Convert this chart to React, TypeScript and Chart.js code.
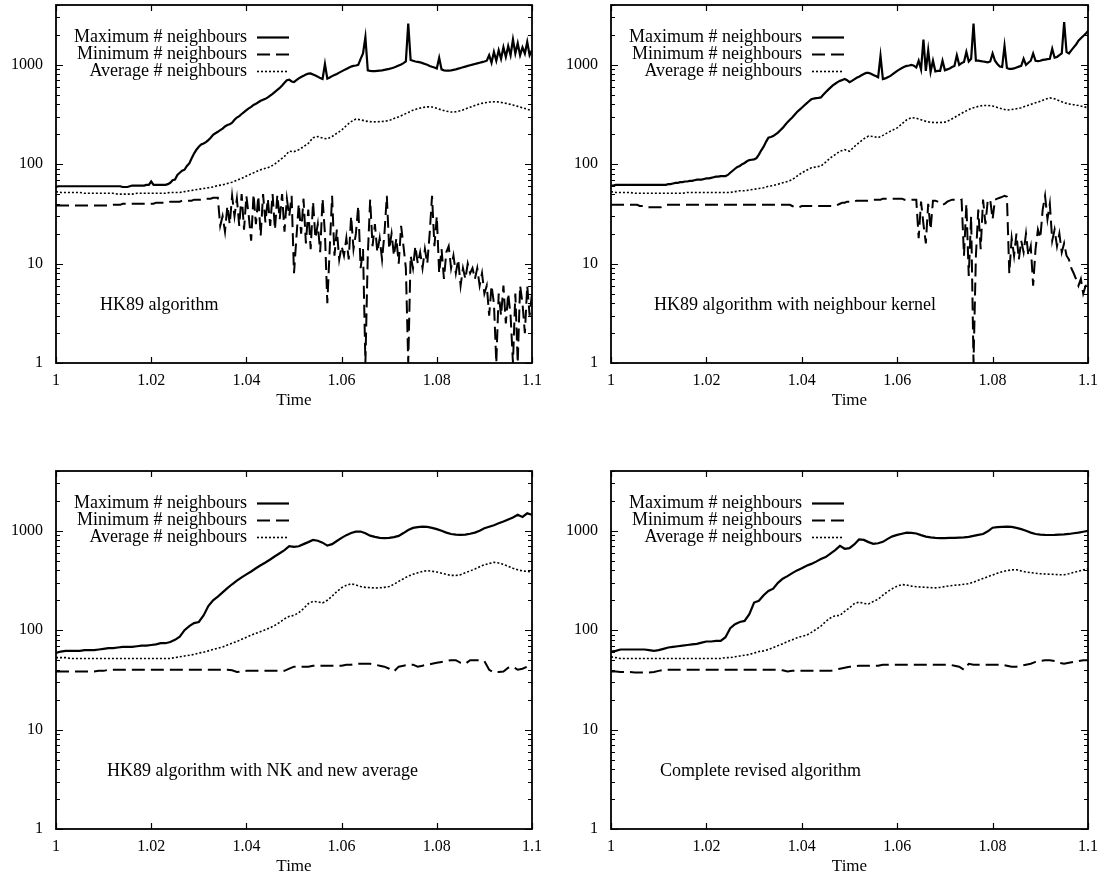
import React, { useEffect, useRef } from 'react';
import { Chart, registerables } from 'chart.js';

Chart.register(...registerables);

// ---------- text ----------
const seriesLabels = ['Maximum # neighbours', 'Minimum # neighbours', 'Average # neighbours'];
const panelCaptions = [
  'HK89 algorithm',
  'HK89 algorithm with neighbour kernel',
  'HK89 algorithm with NK and new average',
  'Complete revised algorithm',
];
const xAxisTitle = 'Time';
const xTicks = [1, 1.02, 1.04, 1.06, 1.08, 1.1];
const xTickLabels = ['1', '1.02', '1.04', '1.06', '1.08', '1.1'];
const yTicks = [1, 10, 100, 1000];
const yTickLabels = ['1', '10', '100', '1000'];
const yMinorMultipliers = [2, 3, 4, 5, 6, 7, 8, 9];

// ---------- sample times ----------
const timeFine = Array.from({ length: 201 }, (_, i) => +(1 + i * 0.0005).toFixed(4));
const timeCoarse = Array.from({ length: 101 }, (_, i) => +(1 + i * 0.001).toFixed(3));

// ---------- panel 1: HK89 algorithm ----------
const hk89Max = [
  59, 60, 60, 60, 60, 60, 60, 60, 60, 60, 60, 60, 60, 60, 60, 60, 60, 60, 60, 60,
  60, 60, 60, 60, 60, 60, 60, 60, 59, 59, 59, 60, 61, 61, 61, 61, 61, 61, 62, 62,
  67, 62, 62, 62, 62, 62, 62, 63,
  65, 69, 70, 78, 82, 86, 88, 96, 102, 115, 128, 140,
  150, 158, 162, 167, 175, 185, 198, 205, 212, 220,
  228, 240, 248, 252, 262, 280, 295, 305, 320, 335,
  350, 365, 378, 395, 405, 420, 435, 445, 455, 470,
  490, 510, 535, 560, 585, 620, 660, 700, 710, 680,
  670, 700, 730, 755, 775, 800, 815, 820, 800, 780,
  760, 735, 720, 1020, 725, 745, 770, 790, 810, 835,
  860, 885, 910, 935, 960, 975, 985, 1000, 1150, 1300,
  1900, 880, 870, 865, 865, 870, 875, 880, 890, 900,
  910, 925, 940, 960, 985, 1010, 1040, 1080, 2600, 1120,
  1100, 1080, 1070, 1060, 1040, 1020, 1000, 975, 955, 940,
  920, 1180, 900, 880, 875, 875, 880, 890, 900, 915,
  930, 945, 960, 975, 990, 1005, 1020, 1035, 1050, 1065,
  1080, 1100, 1250, 1050, 1350, 1100, 1400, 1150, 1500, 1200,
  1550, 1250, 1800, 1300, 1650, 1250, 1500, 1300, 1700, 1250,
  1400,
];
const hk89Min = [
  38.5, 38.5, 38.5, 38.5, 38.5, 38.5, 38.5, 38.5, 38.5, 38.5, 38.5, 38.5, 38.5, 38.5, 38.5, 38.5, 38.5, 38.5, 38.5, 38.5,
  38.5, 38.5, 38.5, 38.5, 39, 39, 39, 39, 40, 40, 40, 40, 40, 40, 40, 40, 40, 40, 40, 40,
  40, 40, 41, 41, 41, 41, 41, 41, 42, 42,
  42, 42, 42, 43, 43, 43, 43, 43, 44, 44,
  44, 44, 44, 45, 45, 45, 46, 46,
  46, 24, 30, 21, 38, 25, 48, 30, 45, 24, 50, 22,
  48, 30, 17, 50, 25, 48, 19, 50, 26, 45,
  24, 50, 22, 49, 28, 50, 21, 45, 30, 48,
  8, 18, 40, 20, 45, 16, 35, 14, 42, 18,
  25, 13, 45, 20, 4, 14, 48, 12, 22, 11,
  15, 12, 18, 11, 30, 14, 20, 38, 9, 14,
  1, 12, 44, 15, 25, 13, 18, 11, 20, 48,
  14, 20, 12, 18, 10, 24, 15, 9, 1, 12,
  9, 15, 10, 13, 9, 14, 10, 20, 48, 15,
  30, 8, 14, 7, 13, 15, 9, 12, 8, 11,
  6, 9, 7, 10, 8, 9, 7, 9, 6, 8,
  5, 6, 3, 6, 4, 1, 5, 3, 6, 2.5,
  5, 3, 1, 5, 1, 6, 4, 2, 6, 3,
  5,
];
const hk89Avg = [
  53, 52, 52, 52, 52, 52, 51, 51, 51, 51,
  51, 51, 51, 50, 50, 50, 50, 51, 51, 51,
  51, 51, 51, 51, 52, 52, 52, 53, 54, 55,
  56, 57, 58, 59, 61, 62, 64, 66, 69, 72,
  76, 80, 84, 88, 91, 94, 101, 110, 120, 135,
  134, 140, 150, 162, 185, 190, 183, 180, 190, 205,
  220, 245, 268, 285, 280, 272, 268, 267, 268, 270,
  275, 288, 300, 315, 332, 350, 362, 372, 378, 376,
  365, 352, 342, 335, 337, 345, 360, 375, 390, 405,
  415, 422, 425, 423, 415, 405, 395, 382, 370, 358,
  345,
];

// ---------- panel 2: HK89 with neighbour kernel ----------
const nkMax = [
  61, 61, 62, 62, 62, 62, 62, 62, 62, 62, 62, 62, 62, 62, 62, 62, 62, 62, 62, 62,
  62, 62, 62, 62, 63, 63, 64, 65, 65, 66,
  66, 67, 67, 68, 68, 69, 70, 70, 70, 71,
  72, 72, 73, 74, 75, 75, 76, 76, 76, 78,
  82, 86, 90, 94, 96, 100, 103, 107, 110, 111,
  112, 115, 125, 138, 150, 168, 185, 188, 192, 200,
  208, 220, 232, 248, 265, 280, 295, 315, 335, 352,
  370, 390, 410, 430, 450, 458, 462, 465, 470, 500,
  530, 560, 590, 620, 645, 670, 690, 705, 720, 700,
  670, 690, 715, 740, 760, 785, 810, 830, 830, 815,
  790, 770, 750, 1230, 720, 730, 750, 770, 800, 835,
  870, 900, 930, 955, 975, 985, 1000, 980,
  940, 1100, 900, 1800, 870, 1400, 850, 1100, 860, 870,
  870, 1100, 880, 900, 920, 950, 975, 1250, 1000, 1040,
  1070, 1350, 1080, 1150, 2600, 1100, 1100, 1090, 1080, 1070,
  1060, 1080, 1300, 1100, 1020, 960, 950, 1550, 930, 910,
  910, 920, 940, 960, 975, 1150, 1000, 1050, 1100, 1300,
  1100, 1090, 1100, 1120, 1130, 1140, 1150, 1450, 1180, 1200,
  1250, 1300, 2700, 1350, 1300, 1400, 1500, 1600, 1750, 1850,
  1950, 2050, 2200,
];
const nkMin = [
  39, 39, 39, 39, 39, 39, 39, 39, 39, 39, 39, 39, 38, 38, 38, 37, 37, 37, 37, 37,
  37, 37, 38, 39, 39, 39, 39, 39, 39, 39, 39, 39, 39, 39, 39, 39, 39, 39, 39, 39,
  39, 39, 39, 39, 39, 39, 39, 39, 39, 39, 39, 39, 39, 39, 39, 39, 39, 39, 39, 39,
  39, 39, 39, 39, 39, 39, 39, 39, 39, 39, 39, 39, 39, 39, 39, 39, 38, 37, 37, 37,
  38, 38, 38, 38, 38, 38, 38, 38, 38, 38, 38, 38, 38, 38, 38, 39, 40, 41, 41, 42,
  42, 42, 42, 43, 43, 43, 43, 43, 43, 44, 44, 44, 44, 44, 45, 45, 45, 45, 45, 45,
  45, 45, 45, 44, 44, 44, 44, 44,
  44, 18, 42, 25, 16, 40, 22, 43,
  43, 42, 41, 39, 40, 42, 43, 44, 44, 44, 43, 44,
  12, 40, 7.5, 30, 1, 12, 35, 14, 44, 25,
  44, 44, 28, 44, 45, 46, 47, 48, 47, 8,
  18, 12, 20, 11, 17, 13, 20, 12, 15, 6,
  14, 22, 18, 35, 48, 28, 40, 17, 22, 15,
  20, 13, 16, 12, 11, 9, 8, 7, 6, 7,
  5, 6, 6,
];
const nkAvg = [
  53, 52, 52, 52, 52, 51, 51, 51, 51, 51,
  51, 51, 51, 51, 51, 51, 52, 52, 52, 52,
  52, 52, 52, 52, 52, 52, 53, 54, 54, 55,
  56, 57, 58, 60, 61, 63, 65, 67, 70, 76,
  82, 87, 92, 94, 96, 105, 116, 125, 135, 140,
  135, 150, 165, 180, 192, 190, 185, 195, 208, 220,
  232, 255, 280, 295, 290, 280, 270, 264, 262, 263,
  265, 278, 295, 315, 335, 355, 370, 382, 390, 390,
  385, 372, 360, 350, 355, 362, 370, 385, 400, 415,
  430, 450, 465, 455, 435, 415, 405, 397, 390, 380,
  370,
];

// ---------- panel 3: HK89 with NK and new average ----------
const nkAvgMax = [
  59, 61, 62, 62, 62, 62, 63, 63, 63, 64,
  65, 66, 66, 67, 68, 68, 68, 69, 70, 70,
  71, 72, 74, 74, 76, 80, 86, 100, 110, 118,
  121, 141, 175, 200, 218, 240, 265, 290, 315, 340,
  365, 390, 420, 450, 480, 515, 555, 595, 640, 700,
  690, 700, 735, 770, 810, 795, 760, 710, 735, 790,
  850, 905, 950, 980, 985, 945, 895, 870, 850, 845,
  850, 865, 890, 950, 1020, 1070, 1090, 1100, 1095, 1070,
  1040, 1000, 960, 930, 915, 910, 915, 935, 960, 1000,
  1060, 1100, 1140, 1190, 1240, 1300, 1360, 1450, 1380, 1500,
  1450,
];
const nkAvgMin = [
  38.5, 38.5, 38.5, 38.5, 38.5, 38.5, 38.5, 38.5, 38.5, 39,
  39, 40, 40, 40, 40, 40, 40, 40, 40, 40,
  40, 40, 40, 40, 40, 40, 40, 40, 40, 40,
  40, 40, 40, 40, 40, 40, 40, 39.5, 38, 38.5,
  39, 39, 39, 39, 39, 39, 39, 39, 39, 41,
  43, 43, 43, 43, 44, 44, 44, 44, 44, 44,
  44, 45, 45, 46, 46, 46, 46, 45, 44, 43,
  41, 38.5, 43, 44, 45, 45, 43, 44, 45, 46,
  47, 48, 49, 50, 50, 47, 46, 50, 50, 50,
  49, 40, 37.5, 38, 38.5, 42, 43, 40, 41, 43,
  45,
];
const nkAvgAvg = [
  53, 53, 53, 52, 52, 52, 52, 52, 52, 52,
  52, 52, 52, 52, 52, 52, 52, 52, 52, 52,
  52, 52, 52, 52, 52, 53, 54, 55, 56, 57,
  59, 60, 62, 64, 66, 68, 71, 74, 77, 81,
  85, 89, 93, 97, 101, 106, 112, 120, 130, 138,
  141, 150, 165, 185, 195, 193, 188, 200, 220, 245,
  268, 283, 293, 285, 275, 270, 268, 266, 267, 270,
  275, 290, 310, 330, 350, 365, 378, 390, 398, 392,
  385, 375, 365, 356, 356, 362, 378, 395, 413, 435,
  455, 470, 482, 475, 460, 440, 420, 405, 395, 390,
  386,
];

// ---------- panel 4: complete revised algorithm ----------
const revisedMax = [
  61, 62, 64, 64, 64, 64, 64, 64, 63, 62,
  63, 65, 67, 68, 69, 70, 71, 72, 73, 75,
  77, 77, 78, 78, 85, 105, 115, 121, 124, 145,
  190, 198, 225, 248, 262, 300, 330, 350, 375, 400,
  420, 445, 465, 490, 520, 545, 590, 640, 705, 660,
  670, 730, 820, 810, 770, 740, 750, 775, 830, 880,
  910, 935, 960, 955, 940, 905, 875, 860, 850, 845,
  845, 848, 850, 855, 858, 870, 890, 910, 930, 990,
  1075, 1090, 1095, 1100, 1095, 1070, 1040, 1000, 960, 930,
  915, 910, 908, 910, 915, 920, 930, 945, 960, 980,
  1000,
];
const revisedMin = [
  38.5, 38.5, 38, 38, 38, 37.5, 37.5, 37.5, 37.5, 38,
  39, 40, 40, 40, 40, 40, 40, 40, 40, 40,
  40, 40, 40, 40, 40, 40, 40, 40, 40, 40,
  40, 40, 40, 40, 40, 40, 39.5, 38.5, 39, 39,
  39, 39, 39, 39, 39, 39, 39, 40, 41, 42,
  43, 43, 44, 44, 44, 44, 44, 45, 45, 45,
  45, 45, 45, 45, 45, 45, 45, 45, 45, 45,
  45, 45, 44, 43, 40, 46, 45, 45, 45, 45,
  45, 45, 45, 44, 43, 43, 44, 45, 46, 48,
  49, 50, 50, 49, 47, 46, 47, 48, 49, 50,
  50,
];
const revisedAvg = [
  54, 53, 52, 52, 52, 52, 52, 52, 52, 52,
  52, 52, 52, 52, 52, 52, 52, 52, 52, 52,
  52, 52, 52, 52, 53, 53, 54, 55, 56, 57,
  59, 61, 62, 64, 67, 70, 73, 77, 80, 84,
  87, 89, 95, 102, 110, 122, 133, 140, 141, 155,
  168, 185, 192, 186, 184, 195, 205, 225, 245, 262,
  278, 288, 285, 278, 274, 272, 270, 268, 267, 270,
  275, 280, 283, 286, 290, 294, 305, 318, 332, 345,
  360, 375, 388, 398, 405, 406, 395, 385, 380, 375,
  370, 368, 366, 364, 362, 361, 370, 382, 393, 405,
  414,
];

// ---------- drawing helpers ----------
const FONT = "'Liberation Serif', 'Times New Roman', serif";
const INK = '#000000';

const labelFor = (vals: number[], labels: string[], v: number) => {
  const idx = vals.findIndex((t) => Math.abs(t - v) < 1e-9);
  return idx >= 0 ? labels[idx] : '';
};

const toPoints = (t: number[], v: number[]) => t.map((x, i) => ({ x, y: v[i] }));

const makeFramePlugin = (caption: string, captionDx: number) => ({
  id: 'gnuplotFrame',
  afterDatasetsDraw(chart: any) {
    const { ctx, chartArea: a, scales } = chart;
    const xs = scales.x;
    const ys = scales.y;
    ctx.save();
    ctx.strokeStyle = INK;
    ctx.lineWidth = 1.2;
    ctx.setLineDash([]);
    ctx.beginPath();
    for (const v of xTicks) {
      const px = Math.round(xs.getPixelForValue(v)) + 0.5;
      ctx.moveTo(px, a.bottom);
      ctx.lineTo(px, a.bottom - 6);
      ctx.moveTo(px, a.top);
      ctx.lineTo(px, a.top + 6);
    }
    for (const base of yTicks) {
      const majorY = Math.round(ys.getPixelForValue(base)) + 0.5;
      ctx.moveTo(a.left, majorY);
      ctx.lineTo(a.left + 7, majorY);
      ctx.moveTo(a.right, majorY);
      ctx.lineTo(a.right - 7, majorY);
      for (const m of yMinorMultipliers) {
        const v = base * m;
        if (v > ys.max) break;
        const py = Math.round(ys.getPixelForValue(v)) + 0.5;
        ctx.moveTo(a.left, py);
        ctx.lineTo(a.left + 4, py);
        ctx.moveTo(a.right, py);
        ctx.lineTo(a.right - 4, py);
      }
    }
    ctx.stroke();
    ctx.lineWidth = 1.8;
    ctx.strokeRect(a.left, a.top, a.right - a.left, a.bottom - a.top);

    // key (gnuplot style: right-aligned text, sample to the right)
    ctx.font = `18px ${FONT}`;
    ctx.fillStyle = INK;
    ctx.textBaseline = 'middle';
    chart.data.datasets.forEach((ds: any, k: number) => {
      const y = a.top + 32 + k * 17;
      ctx.textAlign = 'right';
      ctx.fillText(ds.label, a.left + 191, y);
      ctx.beginPath();
      ctx.lineWidth = ds.borderWidth;
      ctx.setLineDash(ds.borderDash || []);
      ctx.moveTo(a.left + 201, y + 0.5);
      ctx.lineTo(a.left + 233, y + 0.5);
      ctx.stroke();
    });
    ctx.setLineDash([]);

    // caption
    ctx.textAlign = 'left';
    ctx.fillText(caption, a.left + captionDx, a.top + 300);
    ctx.restore();
  },
});

const buildConfig = (p: any): any => ({
  type: 'line',
  data: {
    datasets: [
      {
        label: seriesLabels[0],
        data: toPoints(p.maxT, p.maxV),
        borderColor: INK,
        borderWidth: 2.2,
        borderDash: [],
        pointRadius: 0,
        tension: 0,
        fill: false,
      },
      {
        label: seriesLabels[1],
        data: toPoints(p.minT, p.minV),
        borderColor: INK,
        borderWidth: 2,
        borderDash: [13, 6],
        pointRadius: 0,
        tension: 0,
        fill: false,
      },
      {
        label: seriesLabels[2],
        data: toPoints(p.avgT, p.avgV),
        borderColor: INK,
        borderWidth: 1.6,
        borderDash: [2, 2],
        pointRadius: 0,
        tension: 0,
        fill: false,
      },
    ],
  },
  options: {
    animation: false,
    responsive: false,
    maintainAspectRatio: false,
    events: [],
    layout: { padding: { left: 0, right: 23, top: 5, bottom: 0 } },
    plugins: {
      legend: { display: false },
      tooltip: { enabled: false },
      title: { display: false },
    },
    scales: {
      x: {
        type: 'linear',
        min: 1,
        max: 1.1,
        afterBuildTicks: (s: any) => {
          s.ticks = xTicks.map((v) => ({ value: v }));
        },
        afterFit: (s: any) => {
          s.height = 57;
          s.paddingLeft = 0;
          s.paddingRight = 0;
        },
        ticks: {
          font: { family: FONT, size: 16 },
          color: INK,
          padding: 8,
          maxRotation: 0,
          minRotation: 0,
          autoSkip: false,
          callback: (v: number) => labelFor(xTicks, xTickLabels, v),
        },
        grid: { display: false, drawTicks: false },
        border: { display: false },
        title: {
          display: true,
          text: xAxisTitle,
          font: { family: FONT, size: 17 },
          color: INK,
          padding: { top: 0, bottom: 9 },
        },
      },
      y: {
        type: 'logarithmic',
        min: 1,
        max: 4000,
        afterBuildTicks: (s: any) => {
          s.ticks = yTicks.map((v) => ({ value: v }));
        },
        afterFit: (s: any) => {
          s.width = 56;
          s.paddingTop = 0;
          s.paddingBottom = 0;
        },
        ticks: {
          font: { family: FONT, size: 16 },
          color: INK,
          padding: 13,
          autoSkip: false,
          callback: (v: number) => labelFor(yTicks, yTickLabels, v),
        },
        grid: { display: false, drawTicks: false },
        border: { display: false },
      },
    },
  },
  plugins: [makeFramePlugin(p.caption, p.captionDx)],
});

const panels = [
  { left: 0, top: 0, width: 555, caption: panelCaptions[0], captionDx: 44,
    maxT: timeFine, maxV: hk89Max, minT: timeFine, minV: hk89Min, avgT: timeCoarse, avgV: hk89Avg },
  { left: 555, top: 0, width: 556, caption: panelCaptions[1], captionDx: 43,
    maxT: timeFine, maxV: nkMax, minT: timeFine, minV: nkMin, avgT: timeCoarse, avgV: nkAvg },
  { left: 0, top: 466, width: 555, caption: panelCaptions[2], captionDx: 51,
    maxT: timeCoarse, maxV: nkAvgMax, minT: timeCoarse, minV: nkAvgMin, avgT: timeCoarse, avgV: nkAvgAvg },
  { left: 555, top: 466, width: 556, caption: panelCaptions[3], captionDx: 49,
    maxT: timeCoarse, maxV: revisedMax, minT: timeCoarse, minV: revisedMin, avgT: timeCoarse, avgV: revisedAvg },
];

const PANEL_H = 420;

function Panel({ p }: { p: any }) {
  const ref = useRef<HTMLCanvasElement | null>(null);
  useEffect(() => {
    if (!ref.current) return;
    const chart = new Chart(ref.current, buildConfig(p));
    return () => chart.destroy();
  }, [p]);
  return (
    <canvas
      ref={ref}
      width={p.width}
      height={PANEL_H}
      style={{ position: 'absolute', left: p.left, top: p.top, width: p.width, height: PANEL_H, display: 'block' }}
    />
  );
}

export default function App() {
  return (
    <div
      style={{
        position: 'fixed',
        left: 0,
        top: 0,
        width: 1111,
        height: 879,
        overflow: 'hidden',
        background: '#ffffff',
      }}
    >
      {panels.map((p, i) => (
        <Panel key={i} p={p} />
      ))}
    </div>
  );
}
